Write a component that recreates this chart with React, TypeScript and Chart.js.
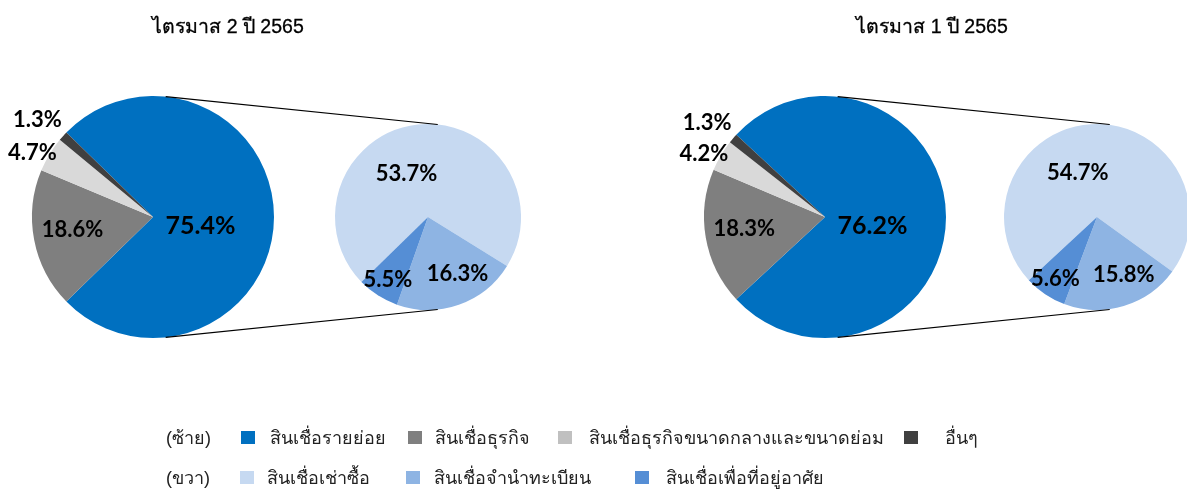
import React, { useEffect, useRef } from "react";
import { Chart, registerables } from "chart.js";

Chart.register(...registerables);

// ---------------- Data ----------------
const PANEL_TITLES = ["ไตรมาส 2 ปี 2565", "ไตรมาส 1 ปี 2565"];
const MAIN_CATEGORIES = [
  "สินเชื่อรายย่อย",
  "สินเชื่อธุรกิจ",
  "สินเชื่อธุรกิจขนาดกลางและขนาดย่อม",
  "อื่นๆ",
];
const SUB_CATEGORIES = [
  "สินเชื่อเช่าซื้อ",
  "สินเชื่อจำนำทะเบียน",
  "สินเชื่อเพื่อที่อยู่อาศัย",
];
const LEGEND_ROW_LABELS = ["(ซ้าย)", "(ขวา)"];
const Q2_MAIN = [75.4, 18.6, 4.7, 1.3];
const Q2_SUB = [53.7, 16.3, 5.5];
const Q1_MAIN = [76.2, 18.3, 4.2, 1.3];
const Q1_SUB = [54.7, 15.8, 5.6];

// ---------------- Styles / layout ----------------
const MAIN_COLORS = ["#0070C0", "#7F7F7F", "#D9D9D9", "#404040"];
const SUB_COLORS = ["#C6D9F1", "#8EB4E3", "#558ED5"];
const MAIN_LEGEND_COLORS = ["#0070C0", "#7F7F7F", "#C0C0C0", "#404040"];
const W = 1187;
const H = 490;
const PANEL_OFFSETS = [0, 672];
const TITLE_CENTERS = [228, 932];
const BIG = { cx: 153, cy: 217, r: 121 };
const SMALL = { cx: 428, cy: 217, r: 93 };
const CONNECTOR_ANGLE = 84; // degrees from horizontal
const LABEL_FONT = "Lato, 'Open Sans', sans-serif";
const THAI_FONT = "Tahoma, 'Liberation Sans', Arial, sans-serif";
// label placement: radial factor and angle nudge (deg) per slice index
const MAIN_LABEL_POS = [
  { f: 0.4, da: 11, size: 25 },
  { f: 0.675, da: 1.5, size: 22 },
  { f: 1.13, da: -3, size: 22 },
  { f: 1.245, da: -2, size: 22 },
];
const SUB_LABEL_POS = [
  { f: 0.52, da: -20, size: 22 },
  { f: 0.69, da: -8, size: 22 },
  { f: 0.8, da: 0, size: 22 },
];
const LEGEND_ROWS = [
  { y: 438, squares: [241, 408, 558, 904], texts: [270, 435, 589, 945] },
  { y: 478, squares: [240, 406, 635], texts: [267, 434, 666] },
];

const labelPlugin = (pos: { f: number; da: number; size: number }[]) => ({
  id: "sliceLabels",
  afterDatasetsDraw(chart: any) {
    const ctx = chart.ctx;
    const meta = chart.getDatasetMeta(0);
    const data = chart.data.datasets[0].data as number[];
    ctx.save();
    ctx.fillStyle = "#000";
    ctx.textAlign = "center";
    ctx.textBaseline = "middle";
    meta.data.forEach((arc: any, i: number) => {
      const p = pos[i];
      const mid = (arc.startAngle + arc.endAngle) / 2 + (p.da * Math.PI) / 180;
      const rr = arc.outerRadius * p.f;
      const x = arc.x + Math.cos(mid) * rr;
      const y = arc.y + Math.sin(mid) * rr;
      ctx.font = `bold ${p.size}px ${LABEL_FONT}`;
      ctx.fillText(`${data[i].toFixed(1)}%`, x, y);
    });
    ctx.restore();
  },
});

const connectorPlugin = (off: number) => ({
  id: "connectors",
  afterDatasetsDraw(chart: any) {
    const ctx = chart.ctx;
    const a = (CONNECTOR_ANGLE * Math.PI) / 180;
    ctx.save();
    ctx.strokeStyle = "#000";
    ctx.lineWidth = 1.2;
    [-1, 1].forEach((s) => {
      ctx.beginPath();
      ctx.moveTo(BIG.cx + off + BIG.r * Math.cos(a), BIG.cy + s * BIG.r * Math.sin(a));
      ctx.lineTo(SMALL.cx + off + SMALL.r * Math.cos(a), SMALL.cy + s * SMALL.r * Math.sin(a));
      ctx.stroke();
    });
    ctx.restore();
  },
});

function PieCanvas(props: {
  values: number[];
  labels: string[];
  colors: string[];
  geom: { cx: number; cy: number; r: number };
  off: number;
  rotation: number;
  labelPos: { f: number; da: number; size: number }[];
  connector?: boolean;
}) {
  const ref = useRef<HTMLCanvasElement>(null);
  useEffect(() => {
    const { cx, cy, r } = props.geom;
    const x = cx + props.off;
    const plugins: any[] = [labelPlugin(props.labelPos)];
    if (props.connector) plugins.push(connectorPlugin(props.off));
    const chart = new Chart(ref.current as HTMLCanvasElement, {
      type: "pie",
      data: {
        labels: props.labels,
        datasets: [
          {
            data: props.values,
            backgroundColor: props.colors,
            borderWidth: 0,
          },
        ],
      },
      options: {
        responsive: false,
        animation: false,
        events: [],
        rotation: props.rotation,
        radius: r,
        layout: {
          padding: { left: x - r, right: W - x - r, top: cy - r, bottom: H - cy - r },
        },
        plugins: {
          legend: { display: false },
          tooltip: { enabled: false },
          title: { display: false },
        },
      },
      plugins,
    } as any);
    return () => chart.destroy();
  }, []);
  return (
    <canvas
      ref={ref}
      width={W}
      height={H}
      style={{ position: "absolute", left: 0, top: 0, width: W, height: H }}
    />
  );
}

export default function App() {
  const panels = [
    { main: Q2_MAIN, sub: Q2_SUB },
    { main: Q1_MAIN, sub: Q1_SUB },
  ];
  return (
    <div
      style={{
        position: "absolute",
        left: 0,
        top: 0,
        width: W,
        height: H,
        overflow: "hidden",
        background: "#fff",
      }}
    >
      {panels.map((p, k) => {
        const half = (p.main[0] / 100) * 180;
        return (
          <React.Fragment key={k}>
            <PieCanvas
              values={p.main}
              labels={MAIN_CATEGORIES}
              colors={MAIN_COLORS}
              geom={BIG}
              off={PANEL_OFFSETS[k]}
              rotation={90 - half}
              labelPos={MAIN_LABEL_POS}
            />
            <PieCanvas
              values={p.sub}
              labels={SUB_CATEGORIES}
              colors={SUB_COLORS}
              geom={SMALL}
              off={PANEL_OFFSETS[k]}
              rotation={90 + half}
              labelPos={SUB_LABEL_POS}
              connector
            />
            <div
              style={{
                position: "absolute",
                left: TITLE_CENTERS[k] - 150,
                width: 300,
                top: 12,
                textAlign: "center",
                fontFamily: THAI_FONT,
                fontSize: 19.5,
                color: "#000",
                lineHeight: "28px",
                WebkitTextStroke: "0.3px #000",
              }}
            >
              {PANEL_TITLES[k]}
            </div>
          </React.Fragment>
        );
      })}
      {LEGEND_ROWS.map((row, ri) => {
        const names = ri === 0 ? MAIN_CATEGORIES : SUB_CATEGORIES;
        const cols = ri === 0 ? MAIN_LEGEND_COLORS : SUB_COLORS;
        return (
          <React.Fragment key={"r" + ri}>
            <div
              style={{
                position: "absolute",
                left: 166,
                top: row.y - 14,
                lineHeight: "28px",
                fontFamily: THAI_FONT,
                fontSize: 18,
                color: "#222",
                whiteSpace: "nowrap",
              }}
            >
              {LEGEND_ROW_LABELS[ri]}
            </div>
            {names.map((n, i) => (
              <React.Fragment key={n}>
                <div
                  style={{
                    position: "absolute",
                    left: row.squares[i],
                    top: row.y - 7,
                    width: 14,
                    height: 13,
                    background: cols[i],
                  }}
                />
                <div
                  style={{
                    position: "absolute",
                    left: row.texts[i],
                    top: row.y - 14,
                    lineHeight: "28px",
                    fontFamily: THAI_FONT,
                    fontSize: 18,
                    color: "#222",
                    whiteSpace: "nowrap",
                  }}
                >
                  {n}
                </div>
              </React.Fragment>
            ))}
          </React.Fragment>
        );
      })}
    </div>
  );
}
